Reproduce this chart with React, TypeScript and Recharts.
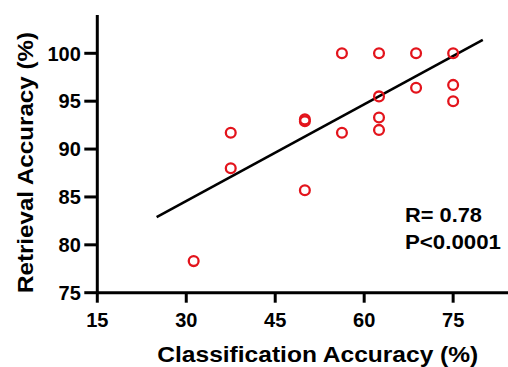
import React from 'react';
import { ScatterChart, Scatter, XAxis, YAxis, ReferenceLine } from 'recharts';

const classificationAcc = [31.25, 37.5, 37.5, 50, 50, 50, 56.25, 56.25, 62.5, 62.5, 62.5, 62.5, 68.75, 68.75, 75, 75, 75];
const retrievalAcc = [78.3, 88.0, 91.7, 85.7, 92.9, 93.1, 91.7, 100, 92.0, 93.3, 95.5, 100, 96.4, 100, 95.0, 96.7, 100];
const fitStart = { x: 25, y: 82.9 };
const fitEnd = { x: 80, y: 101.4 };
const xTicks = [15, 30, 45, 60, 75];
const yTicks = [75, 80, 85, 90, 95, 100];
const annotation = ['R= 0.78', 'P<0.0001'];
const xTitle = 'Classification Accuracy (%)';
const yTitle = 'Retrieval Accuracy (%)';

const points = classificationAcc.map((x, i) => ({ x, y: retrievalAcc[i] }));

const FONT = "'Liberation Sans', Arial, Helvetica, sans-serif";
const RED = '#e3141c';

const Ring = (props: any) => {
  const { cx, cy } = props;
  if (cx == null || cy == null) return null;
  return <circle cx={cx} cy={cy} r={4.9} fill="none" stroke={RED} strokeWidth={2.3} />;
};

const XTick = (props: any) => {
  const { x, y, payload } = props;
  return (
    <text x={x} y={y + 20} textAnchor="middle" fontFamily={FONT} fontWeight={700} fontSize={20} fill="#000">
      {payload.value}
    </text>
  );
};

const YTick = (props: any) => {
  const { x, y, payload } = props;
  return (
    <text x={x} y={y + 7.2} textAnchor="end" fontFamily={FONT} fontWeight={700} fontSize={20} fill="#000">
      {payload.value}
    </text>
  );
};

export default function App() {
  return (
    <div style={{ position: 'absolute', left: 0, top: 0, width: 508, height: 367, background: '#fff' }}>
      <ScatterChart width={508} height={367} margin={{ top: 15, right: 0, bottom: 0, left: 0 }}>
        <XAxis
          type="number"
          dataKey="x"
          domain={[15, 84.25]}
          ticks={xTicks}
          allowDataOverflow
          height={74.3}
          axisLine={{ stroke: '#000', strokeWidth: 3 }}
          tickLine={{ stroke: '#000', strokeWidth: 3 }}
          tickSize={10}
          tickMargin={4}
          tick={<XTick />}
        />
        <YAxis
          type="number"
          dataKey="y"
          domain={[75, 104]}
          ticks={yTicks}
          allowDataOverflow
          width={97.3}
          axisLine={{ stroke: '#000', strokeWidth: 3 }}
          tickLine={{ stroke: '#000', strokeWidth: 3 }}
          tickSize={13}
          tickMargin={3.5}
          tick={<YTick />}
        />
        <ReferenceLine segment={[fitStart, fitEnd]} stroke="#000" strokeWidth={2.6} ifOverflow="visible" />
        <Scatter data={points} shape={Ring} isAnimationActive={false} />
      </ScatterChart>
      <svg width={508} height={367} style={{ position: 'absolute', left: 0, top: 0, pointerEvents: 'none' }}>
        <text
          x={317.8}
          y={362.3}
          textAnchor="middle"
          fontFamily={FONT}
          fontWeight={700}
          fontSize={21.4}
          textLength={321}
          lengthAdjust="spacingAndGlyphs"
          fill="#000"
        >
          {xTitle}
        </text>
        <text
          x={0}
          y={0}
          transform="translate(33.3,162.5) rotate(-90)"
          textAnchor="middle"
          fontFamily={FONT}
          fontWeight={700}
          fontSize={21.4}
          textLength={261}
          lengthAdjust="spacingAndGlyphs"
          fill="#000"
        >
          {yTitle}
        </text>
        <text
          x={405}
          y={221.7}
          fontFamily={FONT}
          fontWeight={700}
          fontSize={19.6}
          textLength={77}
          lengthAdjust="spacingAndGlyphs"
          fill="#000"
        >
          {annotation[0]}
        </text>
        <text
          x={405}
          y={249}
          fontFamily={FONT}
          fontWeight={700}
          fontSize={19.6}
          textLength={96}
          lengthAdjust="spacingAndGlyphs"
          fill="#000"
        >
          {annotation[1]}
        </text>
      </svg>
    </div>
  );
}
